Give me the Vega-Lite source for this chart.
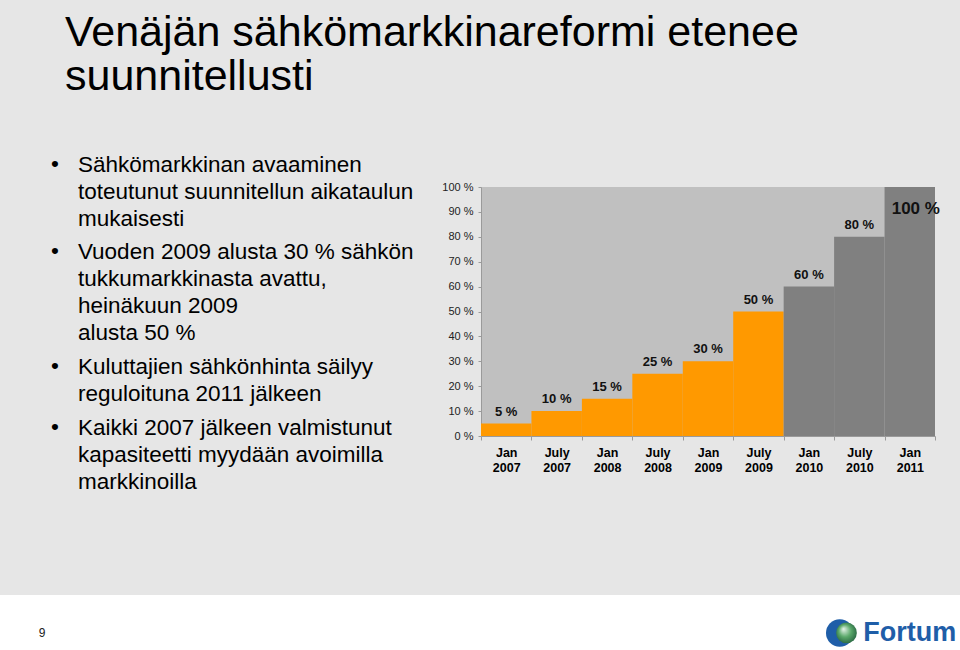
{
  "$schema": "https://vega.github.io/schema/vega-lite/v6.json",
  "padding": 0,
  "background": "#e6e6e6",
  "bounds": "flush",
  "spacing": 0,
  "columns": 2,
  "config": {
    "view": {"stroke": null},
    "font": "Liberation Sans",
    "text": {"font": "Liberation Sans"},
    "axis": {"labelFont": "Liberation Sans", "titleFont": "Liberation Sans"}
  },
  "datasets": {
    "title": [
      {"line": 1, "text": "Venäjän sähkömarkkinareformi etenee"},
      {"line": 2, "text": "suunnitellusti"}
    ],
    "bullets": [
      {"row": 0, "bullet": "•", "text": "Sähkömarkkinan avaaminen"},
      {"row": 1, "bullet": "", "text": "toteutunut suunnitellun aikataulun"},
      {"row": 2, "bullet": "", "text": "mukaisesti"},
      {"row": 3.25, "bullet": "•", "text": "Vuoden 2009 alusta 30 % sähkön"},
      {"row": 4.25, "bullet": "", "text": "tukkumarkkinasta avattu,"},
      {"row": 5.25, "bullet": "", "text": "heinäkuun 2009"},
      {"row": 6.25, "bullet": "", "text": "alusta 50 %"},
      {"row": 7.5, "bullet": "•", "text": "Kuluttajien sähkönhinta säilyy"},
      {"row": 8.5, "bullet": "", "text": "reguloituna 2011 jälkeen"},
      {"row": 9.75, "bullet": "•", "text": "Kaikki 2007 jälkeen valmistunut"},
      {"row": 10.75, "bullet": "", "text": "kapasiteetti myydään avoimilla"},
      {"row": 11.75, "bullet": "", "text": "markkinoilla"}
    ],
    "opening": [
      {"period": "Jan 2007", "share": 5, "label": "5 %", "status": "toteutunut"},
      {"period": "July 2007", "share": 10, "label": "10 %", "status": "toteutunut"},
      {"period": "Jan 2008", "share": 15, "label": "15 %", "status": "toteutunut"},
      {"period": "July 2008", "share": 25, "label": "25 %", "status": "toteutunut"},
      {"period": "Jan 2009", "share": 30, "label": "30 %", "status": "toteutunut"},
      {"period": "July 2009", "share": 50, "label": "50 %", "status": "toteutunut"},
      {"period": "Jan 2010", "share": 60, "label": "60 %", "status": "suunniteltu"},
      {"period": "July 2010", "share": 80, "label": "80 %", "status": "suunniteltu"},
      {"period": "Jan 2011", "share": 100, "label": "100 %", "status": "suunniteltu"}
    ],
    "footer": [
      {"page": "9", "logo": "Fortum"}
    ]
  },
  "concat": [
    {
      "width": 481,
      "height": 187,
      "data": {"name": "title"},
      "mark": {"type": "text", "align": "left", "baseline": "alphabetic", "fontSize": 43, "color": "#000000"},
      "encoding": {
        "x": {"datum": 13.51, "type": "quantitative", "scale": {"domain": [0, 100]}, "axis": null},
        "y": {"field": "line", "type": "quantitative", "scale": {"domain": [-0.04545, 4.2045], "reverse": true}, "axis": null},
        "text": {"field": "text"}
      }
    },
    {
      "width": 479,
      "height": 187,
      "data": {"values": []},
      "mark": {"type": "point"},
      "encoding": {}
    },
    {
      "width": 481,
      "height": 408,
      "data": {"name": "bullets"},
      "encoding": {
        "y": {"field": "row", "type": "quantitative", "scale": {"domain": [0.5667, 15.678], "reverse": true}, "axis": null}
      },
      "layer": [
        {
          "mark": {"type": "text", "align": "center", "baseline": "alphabetic", "fontSize": 22.5, "color": "#000000", "dy": -1},
          "encoding": {
            "x": {"datum": 11.43, "type": "quantitative", "scale": {"domain": [0, 100]}, "axis": null},
            "text": {"field": "bullet"}
          }
        },
        {
          "mark": {"type": "text", "align": "left", "baseline": "alphabetic", "fontSize": 22.5, "color": "#000000"},
          "encoding": {
            "x": {"datum": 16.2, "type": "quantitative", "scale": {"domain": [0, 100]}, "axis": null},
            "text": {"field": "text"}
          }
        }
      ]
    },
    {
      "width": 454,
      "height": 249,
      "data": {"name": "opening"},
      "view": {"fill": "#c0c0c0", "stroke": null},
      "encoding": {
        "x": {
          "field": "period", "type": "ordinal", "sort": null,
          "scale": {"paddingInner": 0, "paddingOuter": 0},
          "axis": {
            "title": null, "labelAngle": 0, "labelExpr": "split(datum.label, ' ')",
            "labelFontWeight": "bold", "labelFontSize": 12.5, "labelColor": "#000000",
            "labelLineHeight": 15, "labelPadding": 6, "tickBand": "extent",
            "tickSize": 4, "tickColor": "#9a9a9a", "domainColor": "#9a9a9a"
          }
        },
        "y": {
          "field": "share", "type": "quantitative",
          "scale": {"domain": [0, 100], "nice": false},
          "axis": {
            "title": null, "values": [0, 10, 20, 30, 40, 50, 60, 70, 80, 90, 100],
            "labelExpr": "datum.value + ' %'", "labelFontSize": 11, "labelColor": "#222222",
            "tickSize": 3, "tickColor": "#9a9a9a", "domainColor": "#9a9a9a",
            "labelPadding": 5, "grid": false
          }
        }
      },
      "layer": [
        {
          "mark": {"type": "bar"},
          "encoding": {
            "color": {
              "field": "status", "type": "nominal",
              "scale": {"domain": ["toteutunut", "suunniteltu"], "range": ["#ff9900", "#808080"]},
              "legend": null
            }
          }
        },
        {
          "transform": [{"filter": "datum.share < 100"}],
          "mark": {"type": "text", "baseline": "alphabetic", "dy": -8, "fontSize": 13, "fontWeight": "bold", "color": "#111111"},
          "encoding": {"text": {"field": "label"}}
        },
        {
          "transform": [{"filter": "datum.share >= 100"}],
          "mark": {"type": "text", "baseline": "alphabetic", "dy": 27, "dx": 6, "fontSize": 17, "fontWeight": "bold", "color": "#111111"},
          "encoding": {"text": {"field": "label"}}
        }
      ]
    },
    {
      "width": 481,
      "height": 55,
      "data": {"name": "footer"},
      "view": {"fill": "#ffffff", "stroke": null},
      "mark": {"type": "text", "align": "center", "baseline": "middle", "fontSize": 12, "color": "#222222"},
      "encoding": {
        "x": {"datum": 8.73, "type": "quantitative", "scale": {"domain": [0, 100]}, "axis": null},
        "y": {"datum": 69, "type": "quantitative", "scale": {"domain": [0, 100], "reverse": true}, "axis": null},
        "text": {"field": "page"}
      }
    },
    {
      "width": 479,
      "height": 55,
      "data": {"name": "footer"},
      "view": {"fill": "#ffffff", "stroke": null},
      "encoding": {
        "y": {"datum": 69, "type": "quantitative", "scale": {"domain": [0, 100], "reverse": true}, "axis": null}
      },
      "layer": [
        {
          "mark": {"type": "point", "shape": "circle", "filled": true, "size": 760, "color": "#1f5ea8", "opacity": 1},
          "encoding": {
            "x": {"datum": 74.9, "type": "quantitative", "scale": {"domain": [0, 100]}, "axis": null}
          }
        },
        {
          "mark": {
            "type": "point", "shape": "circle", "filled": true, "size": 430, "opacity": 1,
            "color": {"gradient": "radial", "x1": 0.35, "y1": 0.3, "x2": 0.5, "y2": 0.5, "r1": 0, "r2": 0.6,
              "stops": [{"offset": 0, "color": "#e8f5ec"}, {"offset": 0.5, "color": "#5aa86a"}, {"offset": 1, "color": "#1f5a3a"}]}
          },
          "encoding": {
            "x": {"datum": 76.3, "type": "quantitative", "scale": {"domain": [0, 100]}, "axis": null}
          }
        },
        {
          "mark": {"type": "text", "align": "left", "baseline": "middle", "fontSize": 27, "fontWeight": "bold", "color": "#1f5ea8"},
          "encoding": {
            "x": {"datum": 79.8, "type": "quantitative", "scale": {"domain": [0, 100]}, "axis": null},
            "text": {"field": "logo"}
          }
        }
      ]
    }
  ]
}
